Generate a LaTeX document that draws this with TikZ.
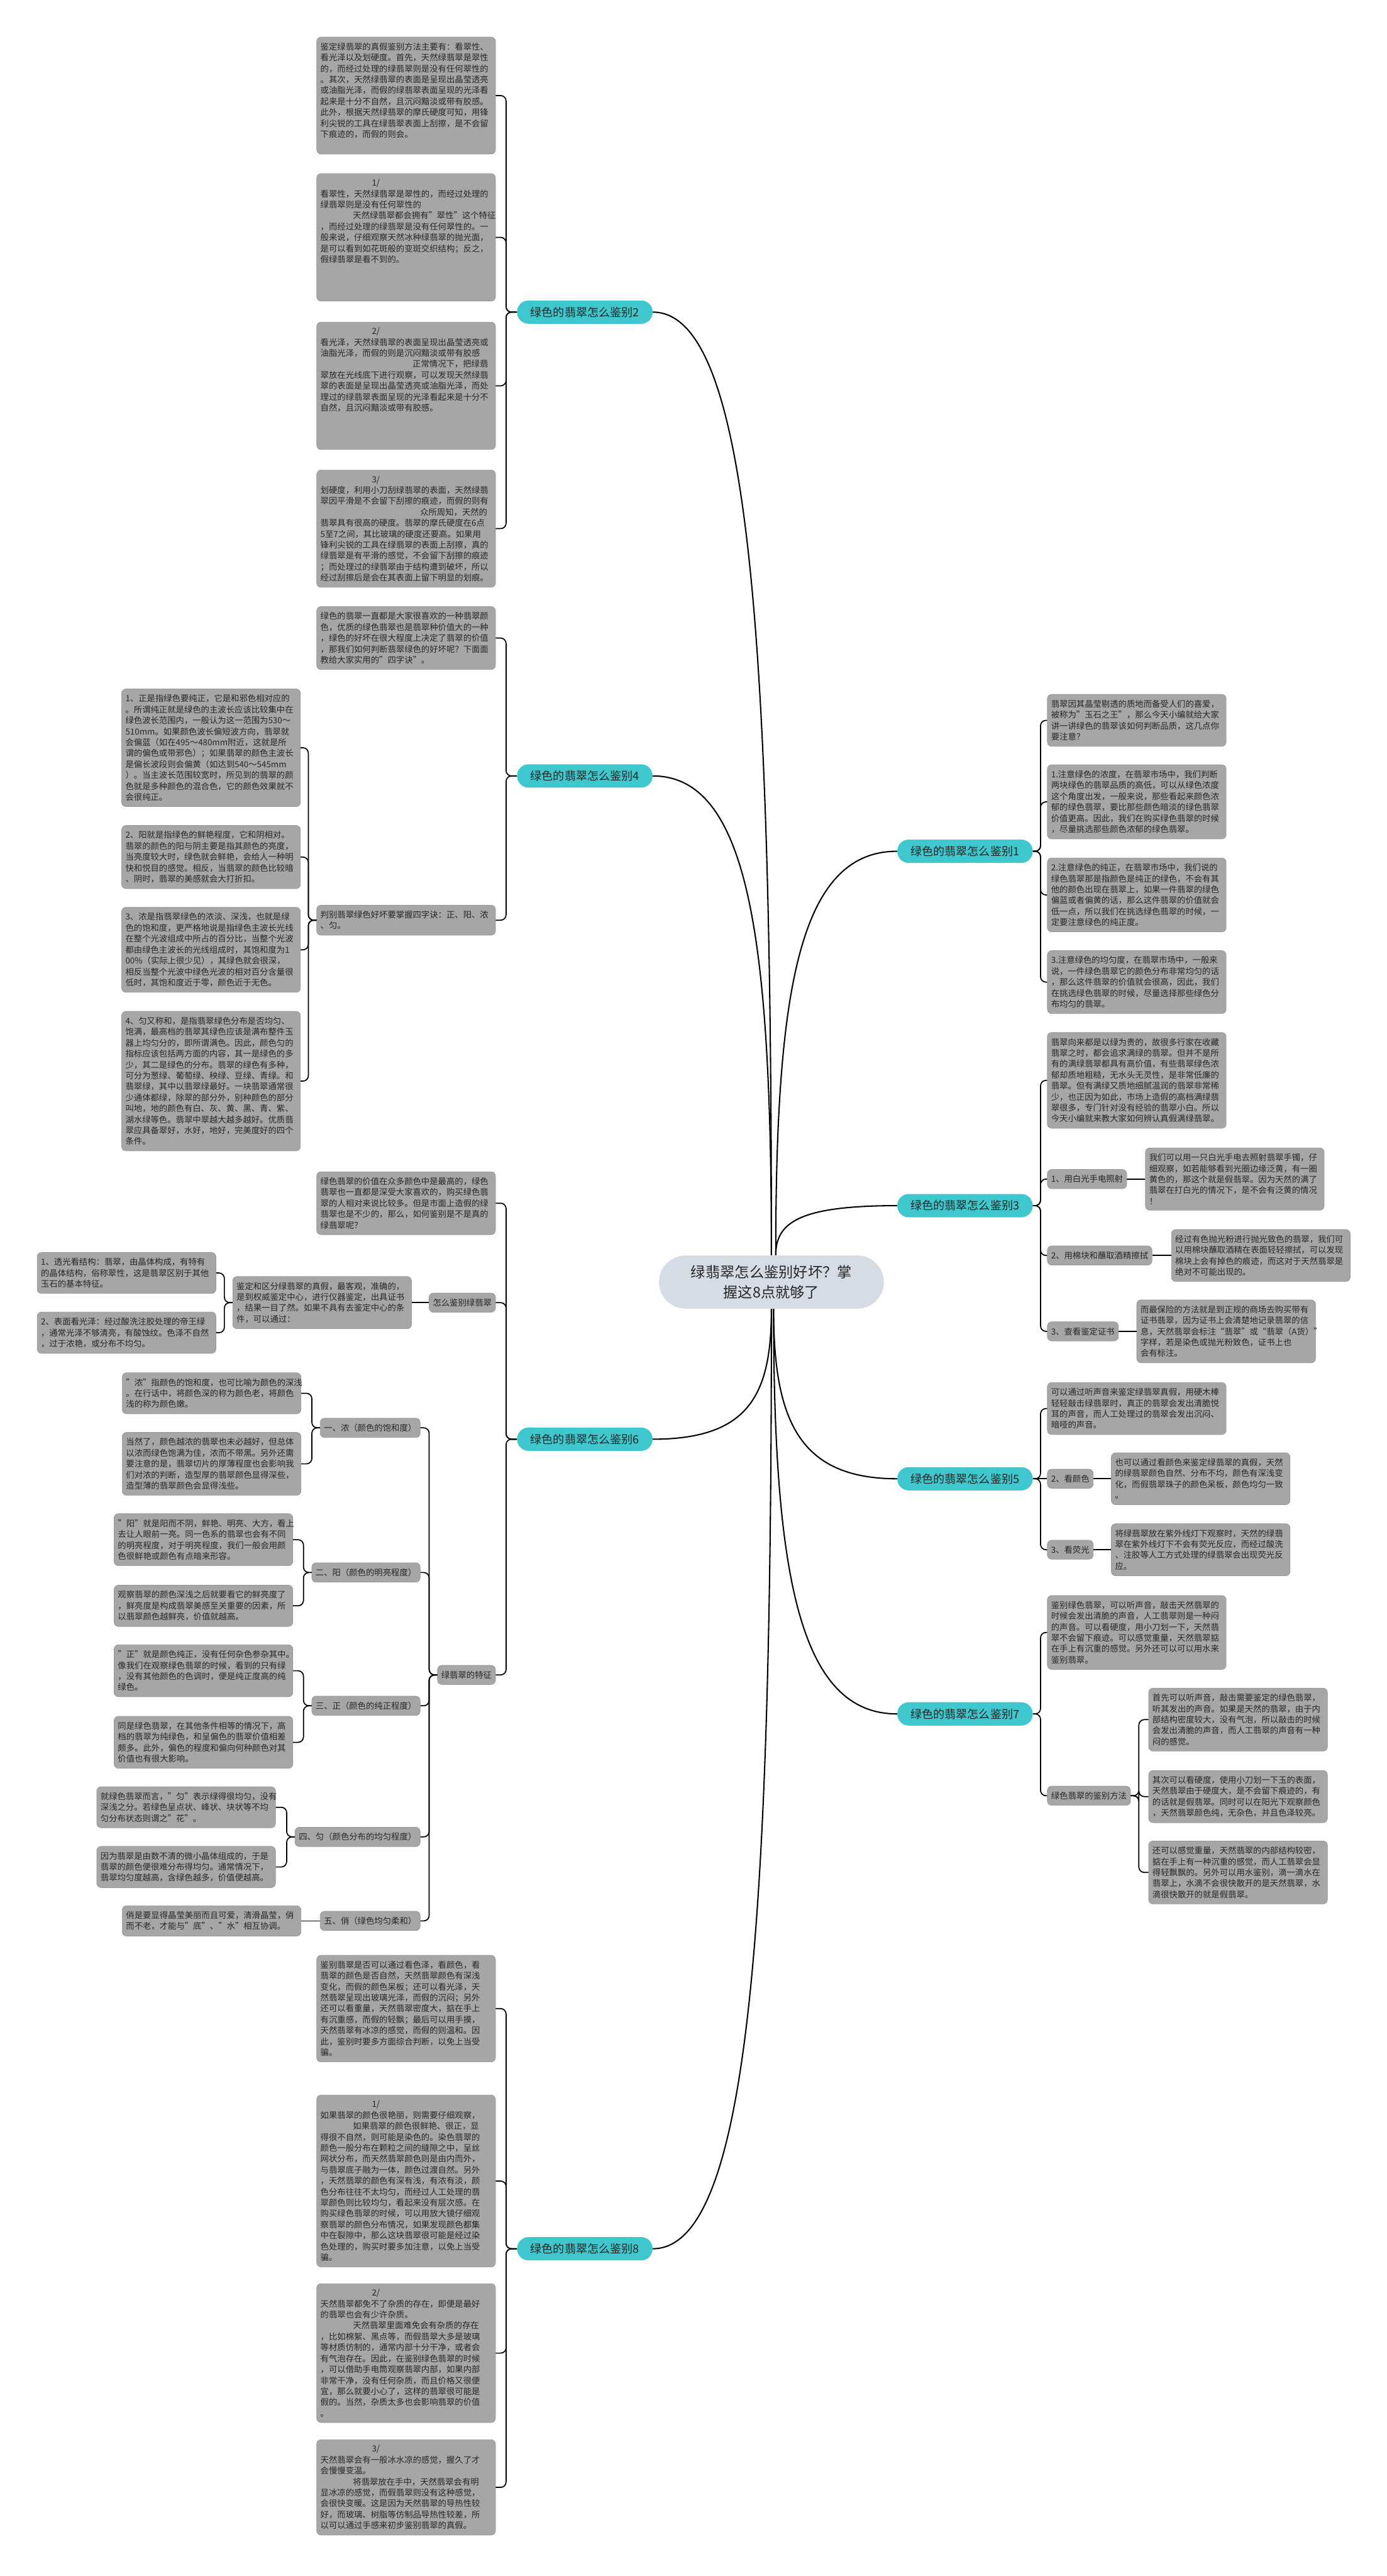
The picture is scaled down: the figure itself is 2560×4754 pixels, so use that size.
\documentclass[tikz,border=0pt]{standalone}
\usepackage{fontspec}
\setmainfont{Noto Sans CJK SC}

\definecolor{leafgray}{RGB}{166,166,166}
\definecolor{leafline}{RGB}{152,152,152}
\definecolor{tealfill}{RGB}{62,200,205}
\definecolor{rootfill}{RGB}{214,220,230}
\definecolor{ink}{RGB}{38,38,38}

\newcommand{\leaffont}{\fontsize{7.75pt}{10.1pt}\selectfont}
\newcommand{\rootfont}{\fontsize{13.5pt}{18.5pt}\selectfont}
\newcommand{\tealfont}{\fontsize{10.5pt}{12pt}\selectfont}

\tikzstyle{tag} = [rectangle, draw=leafline, line width=0.4pt, fill=leafgray,
    rounded corners=4pt, text=ink, font=\leaffont, inner xsep=3.5pt, inner ysep=5.25pt]
\tikzstyle{note} = [tag, text width=158pt, align=left]

\begin{document}
\begin{tikzpicture}[x=0.5pt,y=-0.5pt,
    branch/.style={rectangle, fill=tealfill, rounded corners=10.5pt, text=ink,
        font=\tealfont, minimum width=125pt, minimum height=21.5pt},
    rootnode/.style={rectangle, fill=rootfill, rounded corners=24.5pt, text=ink,
        font=\rootfont, align=center, minimum width=207.5pt, minimum height=49pt},
    link/.style={draw=black, line width=1pt, rounded corners=5pt},
    trunk/.style={draw=black, line width=1.2pt}]

  \fill[white] (0,0) rectangle (2560,4754);
  \useasboundingbox (0,0) rectangle (2560,4754);

  % centre and the eight branches
  \node[rootnode] (root) at (1424,2366) {绿翡翠怎么鉴别好坏？掌\\握这8点就够了};

  \node[branch,anchor=east] (b2) at (1205,576)  {绿色的翡翠怎么鉴别2};
  \node[branch,anchor=east] (b4) at (1205,1432) {绿色的翡翠怎么鉴别4};
  \node[branch,anchor=east] (b6) at (1205,2656) {绿色的翡翠怎么鉴别6};
  \node[branch,anchor=east] (b8) at (1205,4150) {绿色的翡翠怎么鉴别8};
  \node[branch,anchor=west] (b1) at (1656,1571) {绿色的翡翠怎么鉴别1};
  \node[branch,anchor=west] (b3) at (1656,2225) {绿色的翡翠怎么鉴别3};
  \node[branch,anchor=west] (b5) at (1656,2729) {绿色的翡翠怎么鉴别5};
  \node[branch,anchor=west] (b7) at (1656,3163) {绿色的翡翠怎么鉴别7};

  \draw[trunk] (root.north) .. controls +(0,-1132) and +(179,0) .. (b2.east);
  \draw[trunk] (root.north) .. controls +(0,-575) and +(179,0) .. (b4.east);
  \draw[trunk] (root.south) .. controls +(0,157) and +(179,0) .. (b6.east);
  \draw[trunk] (root.south) .. controls +(0,1128) and +(179,0) .. (b8.east);
  \draw[trunk] ([xshift=4pt]root.north) .. controls +(0,-485) and +(-182,0) .. (b1.west);
  \draw[trunk] ([xshift=4pt]root.north) .. controls +(0,-60) and +(-182,0) .. (b3.west);
  \draw[trunk] ([xshift=2pt]root.south) .. controls +(0,204) and +(-182,0) .. (b5.west);
  \draw[trunk] ([xshift=2pt]root.south) .. controls +(0,486) and +(-182,0) .. (b7.west);

  % branch 2
  \node[note,anchor=north east] (n2a) at (915,68) {鉴定绿翡翠的真假鉴别方法主要有：看翠性、\\看光泽以及划硬度。首先，天然绿翡翠是翠性\\的，而经过处理的绿翡翠则是没有任何翠性的\\。其次，天然绿翡翠的表面是呈现出晶莹透亮\\或油脂光泽，而假的绿翡翠表面呈现的光泽看\\起来是十分不自然，且沉闷黯淡或带有胶感。\\此外，根据天然绿翡翠的摩氏硬度可知，用锋\\利尖锐的工具在绿翡翠表面上刮擦，是不会留\\下痕迹的，而假的则会。\\~};
  \node[note,anchor=north east] (n2b) at (915,320) {\hspace*{47.5pt}1/\\看翠性，天然绿翡翠是翠性的，而经过处理的\\绿翡翠则是没有任何翠性的\\\hspace*{30pt}天然绿翡翠都会拥有"翠性"这个特征\\，而经过处理的绿翡翠是没有任何翠性的。一\\般来说，仔细观察天然冰种绿翡翠的抛光面，\\是可以看到如花斑般的变斑交织结构；反之，\\假绿翡翠是看不到的。\\~\\~\\~};
  \node[note,anchor=north east] (n2c) at (915,594) {\hspace*{47.5pt}2/\\看光泽，天然绿翡翠的表面呈现出晶莹透亮或\\油脂光泽，而假的则是沉闷黯淡或带有胶感\\\hspace*{85pt}正常情况下，把绿翡\\翠放在光线底下进行观察，可以发现天然绿翡\\翠的表面是呈现出晶莹透亮或油脂光泽，而处\\理过的绿翡翠表面呈现的光泽看起来是十分不\\自然，且沉闷黯淡或带有胶感。\\~\\~\\~};
  \node[note,anchor=north east] (n2d) at (915,867) {\hspace*{47.5pt}3/\\划硬度，利用小刀刮绿翡翠的表面，天然绿翡\\翠因平滑是不会留下刮擦的痕迹，而假的则有\\\hspace*{92pt}众所周知，天然的\\翡翠具有很高的硬度。翡翠的摩氏硬度在6点\\5至7之间，其比玻璃的硬度还要高。如果用\\锋利尖锐的工具在绿翡翠的表面上刮擦，真的\\绿翡翠是有平滑的感觉，不会留下刮擦的痕迹\\；而处理过的绿翡翠由于结构遭到破坏，所以\\经过刮擦后是会在其表面上留下明显的划痕。};

  \draw[link] (b2.west) -- ++(-20,0) |- (n2a.east);
  \draw[link] (b2.west) -- ++(-20,0) |- (n2b.east);
  \draw[link] (b2.west) -- ++(-20,0) |- (n2c.east);
  \draw[link] (b2.west) -- ++(-20,0) |- (n2d.east);

  % branch 4
  \node[note,anchor=north east] (n4a) at (915,1119) {绿色的翡翠一直都是大家很喜欢的一种翡翠颜\\色，优质的绿色翡翠也是翡翠种价值大的一种\\，绿色的好坏在很大程度上决定了翡翠的价值\\，那我们如何判断翡翠绿色的好坏呢？下面面\\教给大家实用的"四字诀"。};
  \node[note,anchor=north east] (n4b) at (915,1670) {判别翡翠绿色好坏要掌握四字诀：正、阳、浓\\、匀。};
  \node[note,anchor=north east] (z1) at (555,1271) {1、正是指绿色要纯正，它是和邪色相对应的\\。所谓纯正就是绿色的主波长应该比较集中在\\绿色波长范围内，一般认为这一范围为530～\\510mm。如果颜色波长偏短波方向，翡翠就\\会偏蓝（如在495～480mm附近，这就是所\\谓的偏色或带邪色）；如果翡翠的颜色主波长\\是偏长波段则会偏黄（如达到540～545mm\\）。当主波长范围较宽时，所见到的翡翠的颜\\色就是多种颜色的混合色，它的颜色效果就不\\会很纯正。};
  \node[note,anchor=north east] (z2) at (555,1523) {2、阳就是指绿色的鲜艳程度，它和阴相对。\\翡翠的颜色的阳与阴主要是指其颜色的亮度，\\当亮度较大时，绿色就会鲜艳，会给人一种明\\快和悦目的感觉。相反，当翡翠的颜色比较暗\\、阴时，翡翠的美感就会大打折扣。};
  \node[note,anchor=north east] (z3) at (555,1674) {3、浓是指翡翠绿色的浓淡、深浅，也就是绿\\色的饱和度，更严格地说是指绿色主波长光线\\在整个光波组成中所占的百分比，当整个光波\\都由绿色主波长的光线组成时，其饱和度为1\\00\%（实际上很少见），其绿色就会很深，\\相反当整个光波中绿色光波的相对百分含量很\\低时，其饱和度近于零，颜色近于无色。};
  \node[note,anchor=north east] (z4) at (555,1866) {4、匀又称和，是指翡翠绿色分布是否均匀、\\饱满，最高档的翡翠其绿色应该是满布整件玉\\器上均匀分的，即所谓满色。因此，颜色匀的\\指标应该包括两方面的内容，其一是绿色的多\\少，其二是绿色的分布。翡翠的绿色有多种，\\可分为葱绿、葡萄绿、秧绿、豆绿、青绿。和\\翡翠绿，其中以翡翠绿最好。一块翡翠通常很\\少通体都绿，除翠的部分外，别种颜色的部分\\叫地，地的颜色有白、灰、黄、黑、青、紫、\\湖水绿等色。翡翠中翠越大越多越好。优质翡\\翠应具备翠好，水好，地好，完美度好的四个\\条件。};

  \draw[link] (b4.west) -- ++(-20,0) |- (n4a.east);
  \draw[link] (b4.west) -- ++(-20,0) |- (n4b.east);
  \draw[link] (n4b.west) -- ++(-15,0) |- (z1.east);
  \draw[link] (n4b.west) -- ++(-15,0) |- (z2.east);
  \draw[link] (n4b.west) -- ++(-15,0) |- (z3.east);
  \draw[link] (n4b.west) -- ++(-15,0) |- (z4.east);

  % branch 6
  \node[note,anchor=north east] (n6a) at (915,2162) {绿色翡翠的价值在众多颜色中是最高的，绿色\\翡翠也一直都是深受大家喜欢的，购买绿色翡\\翠的人相对来说比较多。但是市面上造假的绿\\翡翠也是不少的，那么，如何鉴别是不是真的\\绿翡翠呢？};
  \node[tag,anchor=east] (how) at (915,2404) {怎么鉴别绿翡翠};
  \node[note,anchor=east] (cert) at (760,2404) {鉴定和区分绿翡翠的真假，最客观，准确的，\\是到权威鉴定中心，进行仪器鉴定，出具证书\\，结果一目了然。如果不具有去鉴定中心的条\\件，可以通过：};
  \node[note,anchor=north east] (k1) at (399,2311) {1、透光看结构：翡翠，由晶体构成，有特有\\的晶体结构，俗称翠性，这是翡翠区别于其他\\玉石的基本特征。};
  \node[note,anchor=north east] (k2) at (399,2421) {2、表面看光泽：经过酸洗注胶处理的帝王绿\\，通常光泽不够清亮，有酸蚀纹。色泽不自然\\，过于浓艳，或分布不均匀。};
  \node[tag,anchor=east] (feat) at (915,3091) {绿翡翠的特征};

  \node[tag,anchor=east] (m1) at (776,2635) {一、浓（颜色的饱和度）};
  \node[note,anchor=north east] (m1a) at (556,2533) {"浓"指颜色的饱和度，也可比喻为颜色的深浅\\。在行话中，将颜色深的称为颜色老，将颜色\\浅的称为颜色嫩。};
  \node[note,anchor=north east] (m1b) at (556,2643) {当然了，颜色越浓的翡翠也未必越好，但总体\\以浓而绿色饱满为佳，浓而不带黑。另外还需\\要注意的是，翡翠切片的厚薄程度也会影响我\\们对浓的判断，造型厚的翡翠颜色显得深些，\\造型薄的翡翠颜色会显得浅些。};
  \node[tag,anchor=east] (m2) at (776,2902) {二、阳（颜色的明亮程度）};
  \node[note,anchor=north east] (m2a) at (541,2793) {"阳"就是阳而不阴，鲜艳、明亮、大方，看上\\去让人眼前一亮。同一色系的翡翠也会有不同\\的明亮程度，对于明亮程度，我们一般会用颜\\色很鲜艳或颜色有点暗来形容。};
  \node[note,anchor=north east] (m2b) at (541,2925) {观察翡翠的颜色深浅之后就要看它的鲜亮度了\\，鲜亮度是构成翡翠美感至关重要的因素，所\\以翡翠颜色越鲜亮，价值就越高。};
  \node[tag,anchor=east] (m3) at (776,3148) {三、正（颜色的纯正程度）};
  \node[note,anchor=north east] (m3a) at (541,3035) {"正"就是颜色纯正，没有任何杂色参杂其中。\\像我们在观察绿色翡翠的时候，看到的只有绿\\，没有其他颜色的色调时，便是纯正度高的纯\\绿色。};
  \node[note,anchor=north east] (m3b) at (541,3167) {同是绿色翡翠，在其他条件相等的情况下，高\\档的翡翠为纯绿色，和呈偏色的翡翠价值相差\\颇多。此外，偏色的程度和偏向何种颜色对其\\价值也有很大影响。};
  \node[tag,anchor=east] (m4) at (776,3390) {四、匀（颜色分布的均匀程度）};
  \node[note,anchor=north east] (m4a) at (509,3297) {就绿色翡翠而言，"匀"表示绿得很均匀，没有\\深浅之分。若绿色呈点状、峰状、块状等不均\\匀分布状态则谓之"花"。};
  \node[note,anchor=north east] (m4b) at (509,3407) {因为翡翠是由数不清的微小晶体组成的，于是\\翡翠的颜色便很难分布得均匀。通常情况下，\\翡翠均匀度越高，含绿色越多，价值便越高。};
  \node[tag,anchor=east] (m5) at (776,3545) {五、俏（绿色均匀柔和）};
  \node[note,anchor=east] (m5a) at (556,3545) {俏是要显得晶莹美丽而且可爱，清滑晶莹，俏\\而不老，才能与"底"、"水"相互协调。};

  \draw[link] (b6.west) -- ++(-20,0) |- (n6a.east);
  \draw[link] (b6.west) -- ++(-20,0) |- (how.east);
  \draw[link] (b6.west) -- ++(-20,0) |- (feat.east);
  \draw[link] (how.west) -- (cert.east);
  \draw[link] (cert.west) -- ++(-15,0) |- (k1.east);
  \draw[link] (cert.west) -- ++(-15,0) |- (k2.east);
  \draw[link] (feat.west) -- ++(-15,0) |- (m1.east);
  \draw[link] (feat.west) -- ++(-15,0) |- (m2.east);
  \draw[link] (feat.west) -- ++(-15,0) |- (m3.east);
  \draw[link] (feat.west) -- ++(-15,0) |- (m4.east);
  \draw[link] (feat.west) -- ++(-15,0) |- (m5.east);
  \draw[link] (m1.west) -- ++(-15,0) |- (m1a.east);
  \draw[link] (m1.west) -- ++(-15,0) |- (m1b.east);
  \draw[link] (m2.west) -- ++(-15,0) |- (m2a.east);
  \draw[link] (m2.west) -- ++(-15,0) |- (m2b.east);
  \draw[link] (m3.west) -- ++(-15,0) |- (m3a.east);
  \draw[link] (m3.west) -- ++(-15,0) |- (m3b.east);
  \draw[link] (m4.west) -- ++(-15,0) |- (m4a.east);
  \draw[link] (m4.west) -- ++(-15,0) |- (m4b.east);
  \draw[link] (m5.west) -- (m5a.east);

  % branch 8
  \node[note,anchor=north east] (n8a) at (915,3608) {鉴别翡翠是否可以通过看色泽，看颜色，看\\翡翠的颜色是否自然，天然翡翠颜色有深浅\\变化，而假的颜色呆板；还可以看光泽，天\\然翡翠呈现出玻璃光泽，而假的沉闷；另外\\还可以看重量，天然翡翠密度大，掂在手上\\有沉重感，而假的轻飘；最后可以用手摸，\\天然翡翠有冰凉的感觉，而假的则温和。因\\此，鉴别时要多方面综合判断，以免上当受\\骗。};
  \node[note,anchor=north east] (n8b) at (915,3866) {\hspace*{47.5pt}1/\\如果翡翠的颜色很艳丽，则需要仔细观察，\\\hspace*{30pt}如果翡翠的颜色很鲜艳、很正，显\\得很不自然，则可能是染色的。染色翡翠的\\颜色一般分布在颗粒之间的缝隙之中，呈丝\\网状分布，而天然翡翠颜色则是由内而外，\\与翡翠底子融为一体，颜色过渡自然。另外\\，天然翡翠的颜色有深有浅，有浓有淡，颜\\色分布往往不太均匀，而经过人工处理的翡\\翠颜色则比较均匀，看起来没有层次感。在\\购买绿色翡翠的时候，可以用放大镜仔细观\\察翡翠的颜色分布情况，如果发现颜色都集\\中在裂隙中，那么这块翡翠很可能是经过染\\色处理的，购买时要多加注意，以免上当受\\骗。};
  \node[note,anchor=north east] (n8c) at (915,4214) {\hspace*{47.5pt}2/\\天然翡翠都免不了杂质的存在，即便是最好\\的翡翠也会有少许杂质。\\\hspace*{30pt}天然翡翠里面难免会有杂质的存在\\，比如棉絮、黑点等，而假翡翠大多是玻璃\\等材质仿制的，通常内部十分干净，或者会\\有气泡存在。因此，在鉴别绿色翡翠的时候\\，可以借助手电筒观察翡翠内部，如果内部\\非常干净，没有任何杂质，而且价格又很便\\宜，那么就要小心了，这样的翡翠很可能是\\假的。当然，杂质太多也会影响翡翠的价值\\。};
  \node[note,anchor=north east] (n8d) at (915,4502) {\hspace*{47.5pt}3/\\天然翡翠会有一般冰水凉的感觉，握久了才\\会慢慢变温。\\\hspace*{30pt}将翡翠放在手中，天然翡翠会有明\\显冰凉的感觉，而假翡翠则没有这种感觉，\\会很快变暖。这是因为天然翡翠的导热性较\\好，而玻璃、树脂等仿制品导热性较差，所\\以可以通过手感来初步鉴别翡翠的真假。};

  \draw[link] (b8.west) -- ++(-20,0) |- (n8a.east);
  \draw[link] (b8.west) -- ++(-20,0) |- (n8b.east);
  \draw[link] (b8.west) -- ++(-20,0) |- (n8c.east);
  \draw[link] (b8.west) -- ++(-20,0) |- (n8d.east);

  % branch 1
  \node[note,anchor=north west] (r1a) at (1933,1281) {翡翠因其晶莹剔透的质地而备受人们的喜爱，\\被称为"玉石之王"，那么今天小编就给大家\\讲一讲绿色的翡翠该如何判断品质，这几点你\\要注意？};
  \node[note,anchor=north west] (r1b) at (1933,1411) {1.注意绿色的浓度，在翡翠市场中，我们判断\\两块绿色的翡翠品质的高低，可以从绿色浓度\\这个角度出发，一般来说，那些看起来颜色浓\\郁的绿色翡翠，要比那些颜色暗淡的绿色翡翠\\价值更高。因此，我们在购买绿色翡翠的时候\\，尽量挑选那些颜色浓郁的绿色翡翠。};
  \node[note,anchor=north west] (r1c) at (1933,1583) {2.注意绿色的纯正，在翡翠市场中，我们说的\\绿色翡翠那是指颜色是纯正的绿色，不会有其\\他的颜色出现在翡翠上，如果一件翡翠的绿色\\偏蓝或者偏黄的话，那么这件翡翠的价值就会\\低一点，所以我们在挑选绿色翡翠的时候，一\\定要注意绿色的纯正度。};
  \node[note,anchor=north west] (r1d) at (1933,1754) {3.注意绿色的均匀度，在翡翠市场中，一般来\\说，一件绿色翡翠它的颜色分布非常均匀的话\\，那么这件翡翠的价值就会很高，因此，我们\\在挑选绿色翡翠的时候，尽量选择那些绿色分\\布均匀的翡翠。};

  \draw[link] (b1.east) -- ++(14,0) |- (r1a.west);
  \draw[link] (b1.east) -- ++(14,0) |- (r1b.west);
  \draw[link] (b1.east) -- ++(14,0) |- (r1c.west);
  \draw[link] (b1.east) -- ++(14,0) |- (r1d.west);

  % branch 3
  \node[note,anchor=north west] (r3a) at (1933,1905) {翡翠向来都是以绿为贵的，故很多行家在收藏\\翡翠之时，都会追求满绿的翡翠。但并不是所\\有的满绿翡翠都具有高价值，有些翡翠绿色浓\\郁却质地粗糙，无水头无灵性，是非常低廉的\\翡翠。但有满绿又质地细腻温润的翡翠非常稀\\少，也正因为如此，市场上造假的高档满绿翡\\翠很多，专门针对没有经验的翡翠小白。所以\\今天小编就来教大家如何辨认真假满绿翡翠。};
  \node[tag,anchor=west] (t31) at (1933,2176) {1、用白光手电照射};
  \node[note,anchor=west] (t31a) at (2114,2176) {我们可以用一只白光手电去照射翡翠手镯，仔\\细观察，如若能够看到光圈边缘泛黄，有一圈\\黄色的，那这个就是假翡翠。因为天然的满了\\翡翠在打白光的情况下，是不会有泛黄的情况\\！};
  \node[tag,anchor=west] (t32) at (1933,2317) {2、用棉块和蘸取酒精擦拭};
  \node[note,anchor=west] (t32a) at (2162,2317) {经过有色抛光粉进行抛光致色的翡翠，我们可\\以用棉块蘸取酒精在表面轻轻擦拭，可以发现\\棉块上会有掉色的痕迹，而这对于天然翡翠是\\绝对不可能出现的。};
  \node[tag,anchor=west] (t33) at (1933,2457) {3、查看鉴定证书};
  \node[note,anchor=west] (t33a) at (2098,2457) {而最保险的方法就是到正规的商场去购买带有\\证书翡翠，因为证书上会清楚地记录翡翠的信\\息，天然翡翠会标注“翡翠”或“翡翠（A货）”\\字样，若是染色或抛光粉致色，证书上也\\会有标注。};

  \draw[link] (b3.east) -- ++(14,0) |- (r3a.west);
  \draw[link] (b3.east) -- ++(14,0) |- (t31.west);
  \draw[link] (b3.east) -- ++(14,0) |- (t32.west);
  \draw[link] (b3.east) -- ++(14,0) |- (t33.west);
  \draw[link] (t31.east) -- (t31a.west);
  \draw[link] (t32.east) -- (t32a.west);
  \draw[link] (t33.east) -- (t33a.west);

  % branch 5
  \node[note,anchor=north west] (r5a) at (1933,2551) {可以通过听声音来鉴定绿翡翠真假，用硬木棒\\轻轻敲击绿翡翠时，真正的翡翠会发出清脆悦\\耳的声音，而人工处理过的翡翠会发出沉闷、\\暗哑的声音。};
  \node[tag,anchor=west] (t52) at (1933,2729) {2、看颜色};
  \node[note,anchor=west] (t52a) at (2051,2729) {也可以通过看颜色来鉴定绿翡翠的真假，天然\\的绿翡翠颜色自然、分布不均，颜色有深浅变\\化，而假翡翠珠子的颜色呆板，颜色均匀一致\\。};
  \node[tag,anchor=west] (t53) at (1933,2860) {3、看荧光};
  \node[note,anchor=west] (t53a) at (2051,2860) {将绿翡翠放在紫外线灯下观察时，天然的绿翡\\翠在紫外线灯下不会有荧光反应，而经过酸洗\\、注胶等人工方式处理的绿翡翠会出现荧光反\\应。};

  \draw[link] (b5.east) -- ++(14,0) |- (r5a.west);
  \draw[link] (b5.east) -- (t52.west);
  \draw[link] (b5.east) -- ++(14,0) |- (t53.west);
  \draw[link] (t52.east) -- (t52a.west);
  \draw[link] (t53.east) -- (t53a.west);

  % branch 7
  \node[note,anchor=north west] (r7a) at (1933,2944) {鉴别绿色翡翠，可以听声音，敲击天然翡翠的\\时候会发出清脆的声音，人工翡翠则是一种闷\\的声音。可以看硬度，用小刀划一下，天然翡\\翠不会留下痕迹。可以感觉重量，天然翡翠掂\\在手上有沉重的感觉。另外还可以可以用水来\\鉴别翡翠。};
  \node[tag,anchor=west] (t71) at (1933,3314) {绿色翡翠的鉴别方法};
  \node[note,anchor=north west] (t71a) at (2120,3115) {首先可以听声音，敲击需要鉴定的绿色翡翠，\\听其发出的声音。如果是天然的翡翠，由于内\\部结构密度较大，没有气泡，所以敲击的时候\\会发出清脆的声音，而人工翡翠的声音有一种\\闷的感觉。};
  \node[note,anchor=north west] (t71b) at (2120,3267) {其次可以看硬度，使用小刀划一下玉的表面，\\天然翡翠由于硬度大，是不会留下痕迹的，有\\的话就是假翡翠。同时可以在阳光下观察颜色\\，天然翡翠颜色纯，无杂色，并且色泽较亮。};
  \node[note,anchor=north west] (t71c) at (2120,3397) {还可以感觉重量，天然翡翠的内部结构较密，\\掂在手上有一种沉重的感觉，而人工翡翠会显\\得轻飘飘的。另外可以用水鉴别，滴一滴水在\\翡翠上，水滴不会很快散开的是天然翡翠，水\\滴很快散开的就是假翡翠。};

  \draw[link] (b7.east) -- ++(14,0) |- (r7a.west);
  \draw[link] (b7.east) -- ++(14,0) |- (t71.west);
  \draw[link] (t71.east) -- ++(15,0) |- (t71a.west);
  \draw[link] (t71.east) -- ++(15,0) |- (t71b.west);
  \draw[link] (t71.east) -- ++(15,0) |- (t71c.west);
\end{tikzpicture}
\end{document}
